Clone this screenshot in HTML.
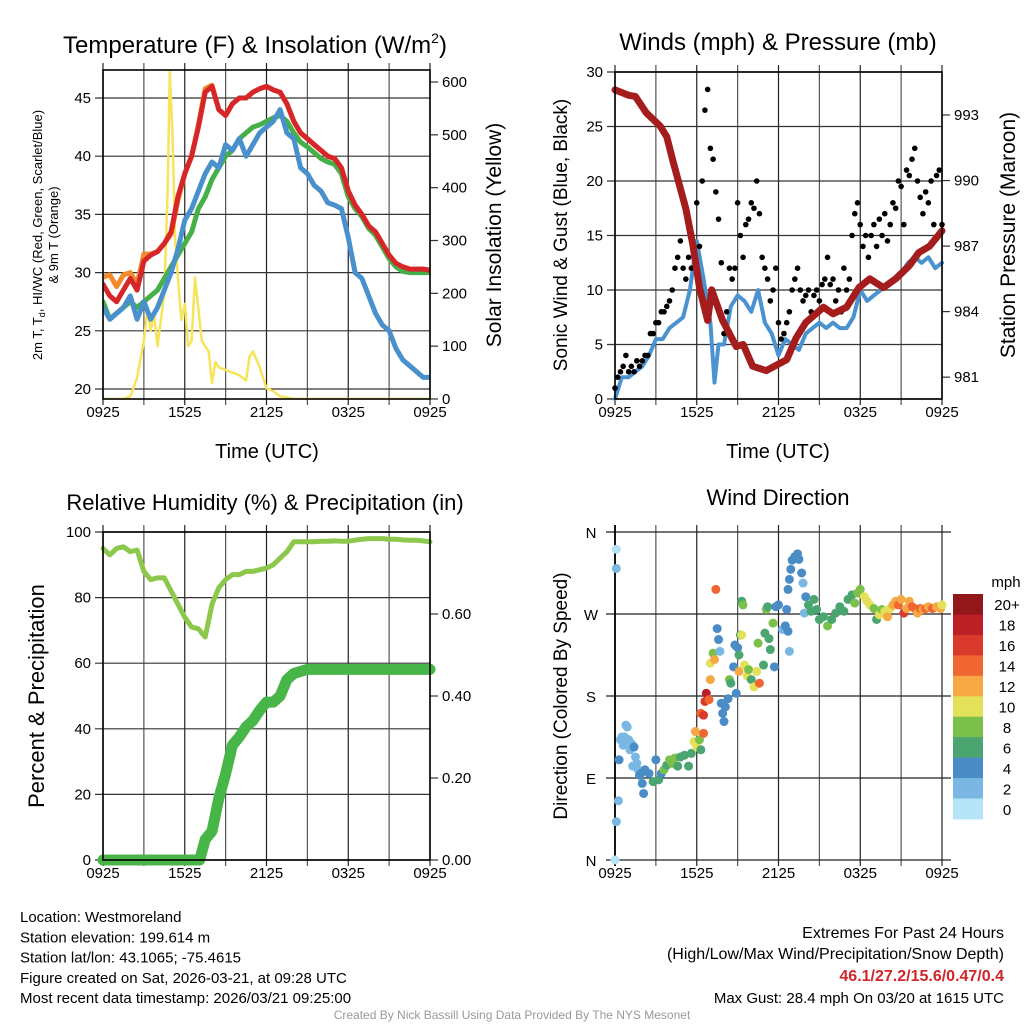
<!DOCTYPE html>
<html><head><meta charset="utf-8"><style>
body{margin:0;background:#fff;}
svg{display:block;font-family:"Liberation Sans",sans-serif;}
</style></head><body>
<svg id="c" width="1024" height="1024" viewBox="0 0 1024 1024" xmlns="http://www.w3.org/2000/svg"></svg>
<script>
// ---------- DATA ----------
const halfHours = [];for(let i=0;i<=48;i++)halfHours.push(i/2);
const tempRed=[29,28,27.5,28.5,29.5,28.5,31,31.5,31.8,32.5,33.5,36.5,38.5,40,42.5,45.5,46,44,43.5,44.5,45,45,45.5,45.8,46,45.7,45.5,44.5,43,42,41.5,41,40.5,40,39.8,39,37,35.8,35,34,33.5,32.5,31.5,30.8,30.5,30.3,30.3,30.3,30.2];
const tempOrange=[29.6,29.8,28.8,29.8,30,29,31.6,31.6,31.8,32.5,33.3,36.2,38.5,40,42.7,45.8,46.1,44,43.5,44.5,45,45,45.5,45.8,46,45.7,45.5,44.5,43,42,41.5,41,40.5,40,39.8,39,37,35.8,35,34,33.5,32.5,31.5,30.8,30.5,30.3,30.3,30.3,30.2];
const tempGreen=[27.5,26,26.5,27,27.5,27,27.5,28,28.5,29.5,30.5,31.5,32.5,33.5,35.5,36.5,38,39,40,40.5,41.5,42,42.5,42.7,43,43.3,43.5,43,42,41.2,40.8,40.3,39.8,39.5,39.3,38.5,36.5,35.5,34.8,33.8,33.2,32.2,31.2,30.5,30.1,30,30,30,30];
const tempBlue=[27,26,26.5,27,28,26,27.5,26,27,28.5,30,32,34.5,35.5,37,38.5,39.5,39,41,40.5,41.5,40,41,42,42.5,43,44,42,41.5,39,38.5,37.5,37,36,35.8,35.5,33,30,29.5,28,26.5,25.5,25,23.5,22.5,22,21.5,21,21];
const solarHours=[0,1.5,2,2.5,3,3.25,3.5,3.75,4,4.25,4.5,4.75,4.9,5.1,5.3,5.5,5.75,6,6.25,6.5,6.75,7,7.25,7.5,7.75,8,8.25,8.5,9,9.5,10,10.5,10.75,11,11.25,11.5,11.75,12,12.5,13,13.5,14,24];
const solarVals=[0,0,5,40,110,170,130,160,100,150,200,400,620,500,300,230,150,180,100,110,230,170,110,100,90,30,70,60,55,50,45,35,80,90,75,60,40,20,15,5,3,0,0];
const presHours=[0,1,1.5,2.3,3.3,3.8,4.25,5.2,5.7,6.2,6.8,7.1,7.9,8.9,9.4,10.1,11.1,12.6,13.3,14,15.3,16,17,17.9,18.7,19.7,20.6,21.6,22.3,23.1,24];
const presVals=[994.15,993.9,993.85,993.1,992.5,992.0,990.9,988.7,987.1,985.1,983.6,985.0,983.6,982.4,982.5,981.5,981.3,981.8,982.8,983.5,984.2,983.9,984.2,985.1,985.5,985.1,985.5,986.1,986.7,987.0,987.7];
const windHours=[0,0.5,1,1.5,2,2.5,3,3.5,4,4.5,5,5.5,6,6.5,7,7.3,7.6,8,8.5,9,9.5,10,10.5,11,11.5,12,12.5,13,13.5,14,14.5,15,15.5,16,16.5,17,17.5,18,18.5,19,19.5,20,20.5,21,21.5,22,22.5,23,23.5,24];
const windVals=[0,2,2,2.5,3,4,5.5,5.5,6.5,7,7.5,10,14.5,11,7,1.5,5,5,8.5,9.5,9,8,10,7,6,4,5.5,5,4.5,6,6.5,7,6.5,7,6.5,6.5,7.5,10,9,9.5,10,10.5,11,11.5,12.5,13,12.5,13,12,12.5];
const gustVals=[1,2,2.5,3,4,2.5,3,2.5,3.5,3,3.5,
4,4,6,6,7,7,8,8,8.5,9,
10,12,13,14.5,12,11,13,12,14,18,
14,20,26.5,28.4,23,22,19,16.5,12.5,6,
8,12,11,12,18,15,13,16,16.5,18,
17.5,20,17,13,12,11,9,10,12,7,
5.5,6,7,8,10,11,12,10,9,9.5,
10,8,9.5,10,9,10.5,11,13,10.5,11,
9,10,8,12,10,11,15,17,18,16,
14,15,13,15,16,14,16.5,15,17,14.5,
16,18,17.5,20,19.5,16,21,20.5,22,23,
20,18.5,17,19,18,20,16,20.5,21,16];
const rhVals=[95,93,95,95.5,94,94.5,88,85.5,86,86,82,78,74,71,70.5,68,78,83,85.5,87,87,88,88,88.5,89,90,92,94,97,97,97,97,97.2,97.2,97.3,97.2,97.2,97.5,97.8,98,98,98,97.8,97.8,97.6,97.5,97.5,97.3,97];
const precipHours=[0,7.1,7.5,8,8.5,9,9.5,10,10.5,11,11.5,12,12.5,13,13.5,14,14.5,15,24];
const precipVals=[0,0,0.05,0.07,0.15,0.21,0.28,0.30,0.325,0.34,0.365,0.385,0.385,0.40,0.44,0.455,0.46,0.465,0.465];
const dirHours=[0,0.1,0.25,0.1,0.1,0.3,0.4,0.5,0.6,0.7,0.8,0.9,1.0,1.1,1.2,1.3,1.4,1.5,1.6,1.7,1.8,1.9,2.0,2.1,2.2,2.5,2.8,3.0,3.2,3.4,3.6,3.8,4.0,4.2,4.4,4.6,4.8,5.1,5.4,5.6,5.8,5.9,6.0,6.2,6.3,6.5,6.3,6.5,6.6,6.7,6.9,7.0,7.0,7.2,7.3,7.4,7.5,7.6,7.7,7.8,7.9,8.0,8.1,8.3,8.4,8.5,8.7,8.9,8.8,9.0,9.1,9.2,9.3,9.1,9.3,9.4,9.5,9.7,9.8,10.0,10.2,10.4,10.6,10.5,10.9,11.0,11.1,11.2,11.3,11.4,11.6,11.7,11.8,12.0,12.3,12.5,12.6,12.7,12.8,12.7,12.8,12.9,13.0,13.2,13.4,13.5,13.7,13.8,13.9,14.0,14.2,14.4,14.6,14.8,15.0,15.3,15.6,15.9,16.2,16.5,16.8,17.1,17.4,17.6,17.8,18.0,18.3,18.5,18.7,19.0,19.2,19.4,19.6,19.8,20.0,20.2,20.4,20.6,20.8,21.0,21.2,21.4,21.6,21.8,22.0,22.2,22.4,22.6,22.8,23.0,23.3,23.6,23.9,24.0];
const dirDeg=[0,42,65,320,341,110,132,135,126,135,148,146,132,121,128,103,124,113,106,99,93,95,84,73,99,95,86,110,88,95,99,104,110,106,112,103,113,115,103,117,130,141,124,132,121,139,161,159,174,183,176,198,216,227,220,297,254,242,229,172,161,152,168,177,198,194,212,183,236,233,225,247,247,207,284,280,214,202,209,198,190,207,194,238,214,249,275,278,243,231,260,212,278,280,253,257,275,251,229,297,308,319,329,333,336,330,315,304,271,289,280,273,286,275,264,267,257,264,271,278,273,286,291,282,293,297,289,284,280,276,264,269,275,273,267,276,280,284,280,286,271,276,284,278,276,271,276,275,276,278,276,278,276,280];
const dirSpeed=[0,1,1,1,0,3,2,2,2,2,1,1,1,2,2,2,3,2,2,2,4,4,4,4,3,4,6,4,6,4,7,5,8,8,7,6,6,6,6,6,10,11,10,8,6,13,13,15,15,17,13,11,10,8,12,13,4,3,1,3,4,4,4,4,7,5,4,4,4,4,6,6,10,11,6,8,9,10,7,6,9,10,13,8,6,6,8,6,6,6,8,4,4,4,2,3,4,4,2,4,4,4,4,4,4,4,4,2,2,4,6,6,6,6,6,6,7,6,6,6,6,6,6,8,7,8,10,10,9,8,6,10,8,9,12,10,11,12,14,12,15,12,12,14,13,12,14,12,13,12,14,11,12,10];
const cbarLabels=["20+","18","16","14","12","10","8","6","4","2","0"];
const cbarColors=["#92171b","#bd1f26","#d93a2b","#ef6630","#f5a843","#e3e05a","#7bc04a","#4aa570","#4a8cc6","#7ab8e3","#b5e4f7"];
const tempTicks=[20,25,30,35,40,45];
const solarTicks=[0,100,200,300,400,500,600];
const windTicks=[0,5,10,15,20,25,30];
const presTicks=[981,984,987,990,993];
const rhTicks=[0,20,40,60,80,100];
const precipTicks=[0,0.2,0.4,0.6];
const dirTicks=[0,90,180,270,360];
const dirNames=["N","E","S","W","N"];
const timeLabels=["0925","1525","2125","0325","0925"];

// ---------- HELPERS ----------
const svg=document.getElementById('c');
const NS='http://www.w3.org/2000/svg';
function mk(tag,attrs,parent){const e=document.createElementNS(NS,tag);for(const k in attrs)e.setAttribute(k,attrs[k]);(parent||svg).appendChild(e);return e;}
function txt(s,x,y,size,anchor,parent,extra){const e=mk('text',Object.assign({x:x,y:y,'font-size':size,'text-anchor':anchor||'middle',fill:'#000'},extra||{}),parent);e.textContent=s;return e;}
function polyline(xs,ys,fx,fy,color,w,parent){let d='';for(let i=0;i<xs.length;i++){d+=(i?'L':'M')+fx(xs[i]).toFixed(1)+','+fy(ys[i]).toFixed(1);}return mk('path',{d:d,fill:'none',stroke:color,'stroke-width':w,'stroke-linejoin':'round','stroke-linecap':'round'},parent);}
function lin(d0,d1,r0,r1){return v=>r0+(v-d0)*(r1-r0)/(d1-d0);}

function frame(g,L,R,T,B,xs,hTicks,yf,leftTicks,leftFmt,rightTicks,yf2,rightFmt){
  for(let h=0;h<=24;h+=3){const x=xs(h);
    const v=mk('line',{x1:x,x2:x,y1:T-7,y2:B+6,stroke:(h%6==0?'#222':'#555'),'stroke-width':1.2},g);
    }
  for(const t of leftTicks){const y=yf(t);
    const l=mk('line',{x1:L-8,x2:R,y1:y,y2:y,stroke:'#333','stroke-width':1.2},g);
    
    const tl=txt(leftFmt(t),L-12,y+5,15,'end',g);
    }
  if(rightTicks){for(const t of rightTicks){const y=yf2(t);
    mk('line',{x1:R,x2:R+8,y1:y,y2:y,stroke:'#333','stroke-width':1.2},g);
    const tl=txt(rightFmt(t),R+12,y+5,15,'start',g);
    }}
  timeLabels.forEach((s,i)=>{const tl=txt(s,xs(i*6),B+18,15,'middle',g);
    });
}
function border(g,L,R,T,B){const r=mk('rect',{x:L,y:T,width:R-L,height:B-T,fill:'none',stroke:'#000','stroke-width':1.6},g);}

// ---------- PANEL 1 ----------
{const g=mk('g',{});
const L=103,R=430,T=70,B=399;const xs=lin(0,24,L,R);const yT=lin(20,45,389,98);const yS=lin(0,600,399,82);
frame(g,L,R,T,B,xs,null,yT,tempTicks,String,solarTicks,yS,String);
const cp=mk('clipPath',{id:'cp1'},g);mk('rect',{x:L,y:T,width:R-L,height:B-T},cp);
const pg=mk('g',{'clip-path':'url(#cp1)'},g);
let s=polyline(solarHours,solarVals,xs,yS,'#f7e45a',2.5,pg);
s=polyline(halfHours,tempOrange,xs,yT,'#f28b2e',5,pg);
s=polyline(halfHours,tempGreen,xs,yT,'#46b048',5,pg);
s=polyline(halfHours,tempRed,xs,yT,'#d7262a',5,pg);
s=polyline(halfHours,tempBlue,xs,yT,'#4a90cc',5,pg);
border(g,L,R,T,B);
let t=txt('Temperature (F) & Insolation (W/m',255,53,24,'middle',g);
const sup=mk('tspan',{'font-size':14,dy:-10},t);sup.textContent='2';const cl=mk('tspan',{dy:10},t);cl.textContent=')';
t=txt('Time (UTC)',267,458,20,'middle',g);
t=txt('Solar Insolation (Yellow)',0,0,21,'middle',g,{transform:'translate(501,235) rotate(-90)'});
t=txt('2m T, T',0,0,13,'middle',g,{transform:'translate(42,235) rotate(-90)'});
const sb=mk('tspan',{'font-size':9,dy:3},t);sb.textContent='d';const rest=mk('tspan',{dy:-3},t);rest.textContent=', HI/WC (Red, Green, Scarlet/Blue)';

t=txt('& 9m T (Orange)',0,0,13,'middle',g,{transform:'translate(58,235) rotate(-90)'});
}

// ---------- PANEL 2 ----------
{const g=mk('g',{});
const L=615,R=942,T=72,B=399;const xs=lin(0,24,L,R);const yW=lin(0,30,399,72);const yP=lin(980,993,399,115);
frame(g,L,R,T,B,xs,null,yW,windTicks,String,presTicks,yP,String);
const cp=mk('clipPath',{id:'cp2'},g);mk('rect',{x:L-4,y:T,width:R-L+8,height:B-T+4},cp);
const pg=mk('g',{'clip-path':'url(#cp2)'},g);
let s=polyline(windHours,windVals,xs,yW,'#4a92d0',4,pg);
gustVals.forEach((v,i)=>{const h=i<11?i*0.2:2+(i-10)*0.2;
  const c=mk('circle',{cx:xs(h),cy:yW(v),r:2.8,fill:'#000'},pg);
  
  });
s=polyline(presHours,presVals,xs,yP,'#a51c1c',7,pg);
border(g,L,R,T,B);
let t=txt('Winds (mph) & Pressure (mb)',778,50,24,'middle',g);
t=txt('Time (UTC)',778,458,20,'middle',g);
t=txt('Sonic Wind & Gust (Blue, Black)',0,0,19,'middle',g,{transform:'translate(567,235) rotate(-90)'});
t=txt('Station Pressure (Maroon)',0,0,21,'middle',g,{transform:'translate(1015,235) rotate(-90)'});
}

// ---------- PANEL 3 ----------
{const g=mk('g',{});
const L=103,R=430,T=532,B=860;const xs=lin(0,24,L,R);const yR=lin(0,100,860,532);const yPr=lin(0,0.6,860,614);
frame(g,L,R,T,B,xs,null,yR,rhTicks,String,precipTicks,yPr,v=>v.toFixed(2));
let s=polyline(halfHours,rhVals,xs,yR,'#8cc84b',5,g);
s=polyline(precipHours,precipVals,xs,yPr,'#48b548',11,g);
border(g,L,R,T,B);
let t=txt('Relative Humidity (%) & Precipitation (in)',265,510,22,'middle',g);
t=txt('Percent & Precipitation',0,0,22,'middle',g,{transform:'translate(44,696) rotate(-90)'});
}

// ---------- PANEL 4 ----------
{const g=mk('g',{});
const L=615,R=942,T=532,B=860;const xs=lin(0,24,L,R);const yD=lin(0,360,860,532);
for(let h=0;h<=24;h+=3){const x=xs(h);const v=mk('line',{x1:x,x2:x,y1:T-7,y2:B+6,stroke:(h%6==0?'#222':'#555'),'stroke-width':1.2},g);}
dirTicks.forEach((d,i)=>{const y=yD(d);const l=mk('line',{x1:L-9,x2:R+9,y1:y,y2:y,stroke:'#222','stroke-width':1.2},g);
  const tl=txt(dirNames[i],L-24,y+6,15,'middle',g);});
timeLabels.forEach((s,i)=>{const tl=txt(s,xs(i*6),B+18,15,'middle',g);});
mk('line',{x1:L,x2:L,y1:T-7,y2:B+6,stroke:'#000','stroke-width':1.8},g);
function colorFor(sp){let idx=Math.min(10,Math.floor((sp+1)/2));return cbarColors[10-idx];}
dirHours.forEach((h,i)=>{const c=mk('circle',{cx:xs(h),cy:yD(dirDeg[i]),r:4.5,fill:colorFor(dirSpeed[i])},g);
  
  });
let t=txt('Wind Direction',778,505,22,'middle',g);
t=txt('Direction (Colored By Speed)',0,0,19,'middle',g,{transform:'translate(567,696) rotate(-90)'});
const cb=mk('g',{},g);
const bh=(819-594)/11;
cbarColors.forEach((col,i)=>{const r=mk('rect',{x:953,y:594+i*bh,width:30,height:bh+0.5,fill:col},cb);
  const tl=txt(cbarLabels[i],1007,594+i*bh+bh/2+6,15,'middle',cb);});
t=txt('mph',1006,587,15,'middle',cb);
}

// ---------- FOOTER ----------
{const g=mk('g',{});
const left=['Location: Westmoreland','Station elevation: 199.614 m','Station lat/lon: 43.1065; -75.4615','Figure created on Sat, 2026-03-21, at 09:28 UTC','Most recent data timestamp: 2026/03/21 09:25:00'];
left.forEach((s,i)=>{const t=txt(s,20,922+i*20.3,15,'start',g);});
let t=txt('Extremes For Past 24 Hours',1004,938,16,'end',g);
t=txt('(High/Low/Max Wind/Precipitation/Snow Depth)',1004,959,16,'end',g);
t=txt('46.1/27.2/15.6/0.47/0.4',1004,981,16,'end',g,{fill:'#d0262a','font-weight':'bold'});
t=txt('Max Gust: 28.4 mph On 03/20 at 1615 UTC',1004,1003,15,'end',g);
t=txt('Created By Nick Bassill Using Data Provided By The NYS Mesonet',512,1019,12,'middle',g,{fill:'#999'});
}
</script>
</body></html>
